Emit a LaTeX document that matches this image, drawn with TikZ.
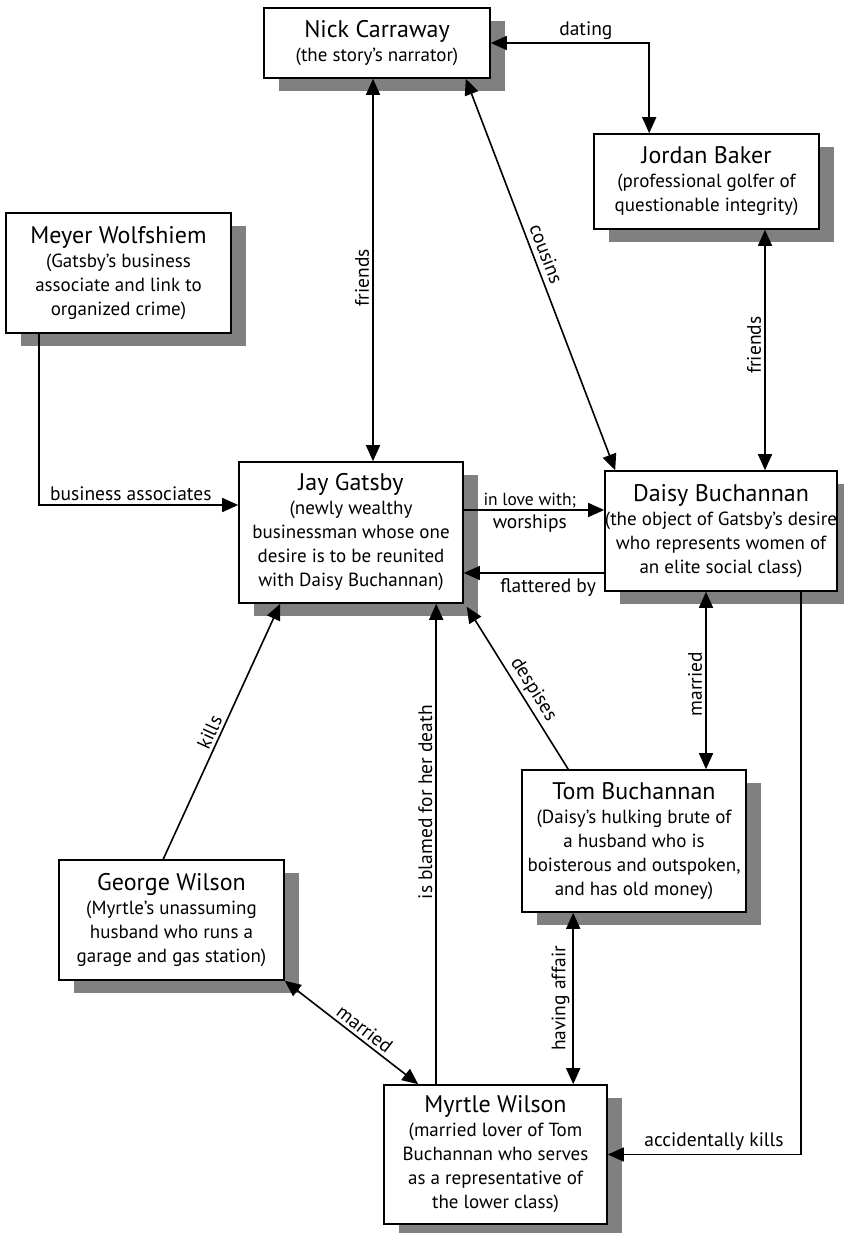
\documentclass[tikz,border=0pt]{standalone}
\usepackage{fontspec}
\setmainfont{PT Sans}
\usetikzlibrary{arrows.meta,shadows}
\begin{document}
\begin{tikzpicture}[x=1pt,y=-1pt,
  box/.style={draw=black,line width=1.6pt,fill=white,align=center,inner sep=0pt,
    font=\fontsize{19}{24}\selectfont,
    drop shadow={shadow xshift=15pt,shadow yshift=-13pt,fill=shadowgray,opacity=1}},
  conn/.style={line width=1.6pt,draw=black},
  tip/.style={-{Triangle[length=16pt,width=14pt]}},
  tips/.style={{Triangle[length=16pt,width=14pt]}-{Triangle[length=16pt,width=14pt]}},
  lab/.style={font=\fontsize{19.5}{22}\selectfont,inner sep=3pt}]
\definecolor{shadowgray}{RGB}{128,128,130}
\newcommand{\ttl}[1]{{\fontsize{24}{25}\selectfont #1}}
\useasboundingbox (0,0) rectangle (843,1233);

\node[box,minimum width=226pt,minimum height=70pt] (nick) at (377,43)
  {\ttl{Nick Carraway}\\(the story’s narrator)};
\node[box,minimum width=225pt,minimum height=95pt] (jordan) at (706.5,181.5)
  {\ttl{Jordan Baker}\\(professional golfer of\\questionable integrity)};
\node[box,minimum width=225pt,minimum height=120pt] (meyer) at (118.5,273)
  {\ttl{Meyer Wolfshiem}\\(Gatsby’s business\\associate and link to\\organized crime)};
\node[box,minimum width=224pt,minimum height=141pt] (gatsby) at (351,532.5)
  {\ttl{Jay Gatsby}\\(newly wealthy\\businessman whose one\\desire is to be reunited\\with Daisy Buchannan)};
\node[box,minimum width=232pt,minimum height=120pt] (daisy) at (721,531)
  {\ttl{Daisy Buchannan}\\(the object of Gatsby’s desire\\who represents women of\\an elite social class)};
\node[box,minimum width=224pt,minimum height=142pt] (tom) at (634,841)
  {\ttl{Tom Buchannan}\\(Daisy’s hulking brute of\\a husband who is\\boisterous and outspoken,\\and has old money)};
\node[box,minimum width=225pt,minimum height=120pt] (george) at (171.5,920)
  {\ttl{George Wilson}\\(Myrtle’s unassuming\\husband who runs a\\garage and gas station)};
\node[box,minimum width=223pt,minimum height=139pt] (myrtle) at (495.5,1154.5)
  {\ttl{Myrtle Wilson}\\(married lover of Tom\\Buchannan who serves\\as a representative of\\the lower class)};

% Nick -- Gatsby
\draw[conn,tips] ([xshift=-4pt]nick.south) -- ([xshift=-4pt]nick.south |- gatsby.north)
  node[lab,pos=0.52,rotate=90,above] {friends};
% Nick -- Daisy
\draw[conn,tips] ([xshift=-25pt]nick.south east) -- ([xshift=11pt]daisy.north west)
  node[lab,pos=0.46,sloped,above,inner sep=5pt] {cousins};
% Nick -- Jordan
\draw[conn,tips] (nick.east) -| ([xshift=56pt]jordan.north west)
  node[lab,pos=0.3,above] {dating};
% Jordan -- Daisy
\draw[conn,tips] ([xshift=58.5pt]jordan.south) -- ([xshift=58.5pt]jordan.south |- daisy.north)
  node[lab,pos=0.48,rotate=90,above] {friends};
% Meyer -> Gatsby
\draw[conn,tip] ([xshift=34pt]meyer.south west) |- ([yshift=27.5pt]gatsby.west)
  node[lab,pos=0.73,above] {business associates};
% Gatsby -> Daisy
\draw[conn,tip] ([yshift=22.5pt]gatsby.east) -- ([yshift=22.5pt]gatsby.east -| daisy.west)
  node[lab,pos=0.47,above,inner sep=1.5pt,font=\fontsize{17.5}{20}\selectfont] {in love with;}
  node[lab,pos=0.47,below,inner sep=4pt] {worships};
% Daisy -> Gatsby
\draw[conn,tip] ([yshift=-40.5pt]gatsby.east -| daisy.west) -- ([yshift=-40.5pt]gatsby.east)
  node[lab,pos=0.4,below,inner sep=5pt] {flattered by};
% Daisy -- Tom
\draw[conn,tips] ([xshift=-15pt]daisy.south) -- ([xshift=-15pt]daisy.south |- tom.north)
  node[lab,pos=0.52,rotate=90,above] {married};
% Tom -> Gatsby
\draw[conn,tip] ([xshift=47pt]tom.north west) -- ([shift={(3pt,-3pt)}]gatsby.south east)
  node[lab,pos=0.45,sloped,above] {despises};
% Myrtle -> Gatsby
\draw[conn,tip] ([xshift=53pt]myrtle.north west) -- ([xshift=53pt]myrtle.north west |- gatsby.south)
  node[lab,pos=0.587,rotate=90,above] {is blamed for her death};
% George -> Gatsby
\draw[conn,tip] ([xshift=105pt]george.north west) -- ([xshift=42pt]gatsby.south west)
  node[lab,pos=0.48,sloped,above] {kills};
% George -- Myrtle
\draw[conn,tips] (george.south east) -- ([xshift=35pt]myrtle.north west)
  node[lab,pos=0.55,sloped,above] {married};
% Tom -- Myrtle
\draw[conn,tips] ([xshift=52pt]tom.south west) -- ([xshift=52pt]tom.south west |- myrtle.north)
  node[lab,midway,rotate=90,above] {having affair};
% Daisy -> Myrtle
\draw[conn,tip] ([xshift=-37pt]daisy.south east) |- (myrtle.east)
  node[lab,pos=0.725,above] {accidentally kills};
\end{tikzpicture}
\end{document}
